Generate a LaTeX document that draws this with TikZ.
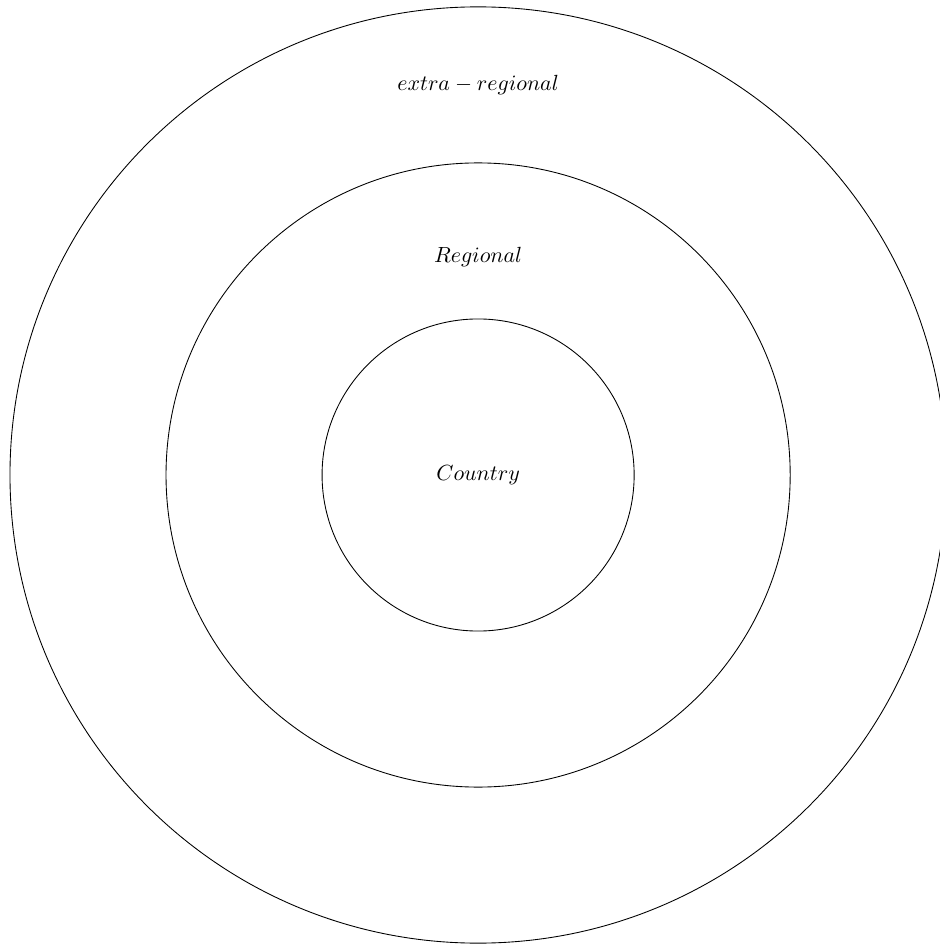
\documentclass[tikz,border=0pt]{standalone}
\usepackage{amsmath, amssymb}
\usepackage{tikz}
\usetikzlibrary{positioning}

\begin{document}
\begin{tikzpicture}[
        ring/.style={draw, black, line width=0.4pt},
        lbl/.style={inner sep=0pt}
      ]
      \useasboundingbox (-7.66,-7.53) rectangle (7.39,7.61);
      % three rings round the country
      \draw[ring] (0,0) circle (2.5cm);
      \draw[ring] (0,0) circle (5cm);
      \draw[ring] (0,0) circle (7.5cm);
      \node[lbl] (country)  at (0,0)    {$Country$};
      \node[lbl] (regional) at (0,3.5)  {$Regional$};
      \node[lbl] (extra)    at (0,6.25) {$extra-regional$};
    \end{tikzpicture}
\end{document}
